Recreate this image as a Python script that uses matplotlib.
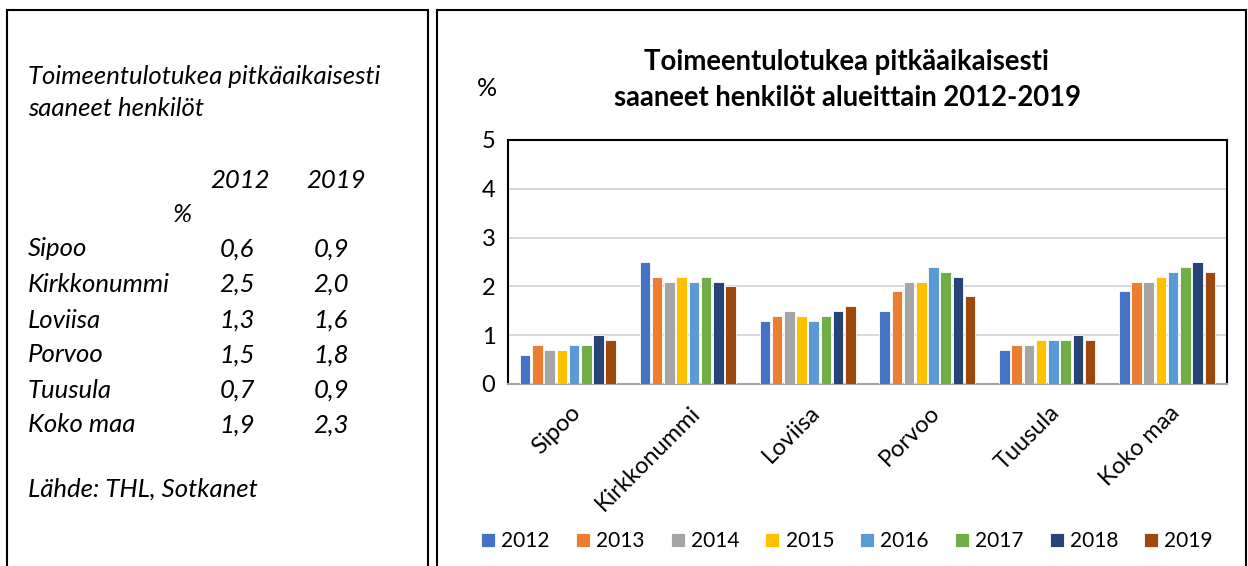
import matplotlib
matplotlib.use("Agg")
import matplotlib.pyplot as plt
from matplotlib.patches import Rectangle
import matplotlib.transforms as mtransforms
import numpy as np

regions = ["Sipoo", "Kirkkonummi", "Loviisa", "Porvoo", "Tuusula", "Koko maa"]
years = ["2012", "2013", "2014", "2015", "2016", "2017", "2018", "2019"]
v2012 = [0.6, 2.5, 1.3, 1.5, 0.7, 1.9]
v2013 = [0.8, 2.2, 1.4, 1.9, 0.8, 2.1]
v2014 = [0.7, 2.1, 1.5, 2.1, 0.8, 2.1]
v2015 = [0.7, 2.2, 1.4, 2.1, 0.9, 2.2]
v2016 = [0.8, 2.1, 1.3, 2.4, 0.9, 2.3]
v2017 = [0.8, 2.2, 1.4, 2.3, 0.9, 2.4]
v2018 = [1.0, 2.1, 1.5, 2.2, 1.0, 2.5]
v2019 = [0.9, 2.0, 1.6, 1.8, 0.9, 2.3]
series = [v2012, v2013, v2014, v2015, v2016, v2017, v2018, v2019]
colors = ["#4472C4", "#ED7D31", "#A5A5A5", "#FFC000", "#5B9BD5", "#70AD47", "#264478", "#9E480E"]

table_2012 = ["0,6", "2,5", "1,3", "1,5", "0,7", "1,9"]
table_2019 = ["0,9", "2,0", "1,6", "1,8", "0,9", "2,3"]

FONT = ["Lato", "DejaVu Sans"]
plt.rcParams['font.family'] = FONT

W, H = 1248, 566
fig = plt.figure(figsize=(W / 100, H / 100), dpi=100)

def fx(x):
    return x / W

def fy(y):
    return 1 - y / H

# panel boxes
fig.patches.append(Rectangle((fx(7), fy(575)), fx(428 - 7), (575 - 10) / H, transform=fig.transFigure,
                             fill=False, edgecolor="black", linewidth=1.5))
fig.patches.append(Rectangle((fx(437), fy(575)), fx(1246 - 437), (575 - 10) / H, transform=fig.transFigure,
                             fill=False, edgecolor="black", linewidth=1.5))

# left text panel
tk = dict(fontsize=18.5, style="italic", color="black", va="center")
fig.text(fx(28), fy(76), "Toimeentulotukea pitkäaikaisesti", **tk)
fig.text(fx(28), fy(109), "saaneet henkilöt", **tk)
fig.text(fx(240), fy(180), "2012", ha="center", **tk)
fig.text(fx(336), fy(180), "2019", ha="center", **tk)
fig.text(fx(182), fy(214), "%", ha="center", **tk)
row_y = [249, 284, 320, 355, 390, 425]
for r, a, b, yy in zip(regions, table_2012, table_2019, row_y):
    fig.text(fx(28), fy(yy), r, **tk)
    fig.text(fx(237), fy(yy), a, ha="center", **tk)
    fig.text(fx(331), fy(yy), b, ha="center", **tk)
fig.text(fx(28), fy(489), "Lähde: THL, Sotkanet", **tk)

# chart
ax = fig.add_axes([fx(508), fy(384), fx(1227 - 508), (384 - 140) / H])
x = np.arange(len(regions))
n = len(series)
slot = 0.102
bw = 0.088
for i, (vals, c, yr) in enumerate(zip(series, colors, years)):
    ax.bar(x + (i - (n - 1) / 2) * slot, vals, width=bw, color=c, label=yr,
           edgecolor="white", linewidth=0.6, zorder=3)

ax.set_xlim(-0.5, len(regions) - 0.5)
ax.set_ylim(0, 5)
ax.set_yticks([0, 1, 2, 3, 4, 5])
ax.set_yticklabels(["0", "1", "2", "3", "4", "5"], fontsize=17)
ax.yaxis.grid(True, color="#D9D9D9", linewidth=1.5, zorder=0)
ax.set_axisbelow(True)
ax.tick_params(axis="y", length=0, pad=9)
ax.tick_params(axis="x", length=0, pad=13)
ax.set_xticks(x)
ax.set_xticklabels(regions, rotation=45, ha="right", rotation_mode="anchor", fontsize=17)
for s in ["top", "right", "left"]:
    ax.spines[s].set_color("black")
    ax.spines[s].set_linewidth(1.5)
ax.spines["bottom"].set_color("#A6A6A6")
ax.spines["bottom"].set_linewidth(1.5)

# small horizontal nudge of the rotated category labels
shift = mtransforms.ScaledTranslation(2 / 100, 0, fig.dpi_scale_trans)
for lbl in ax.get_xticklabels():
    lbl.set_transform(lbl.get_transform() + shift)

fig.text(fx(487), fy(89), "%", fontsize=18, ha="center", va="center")
fig.text(fx(847), fy(62), "Toimeentulotukea pitkäaikaisesti", fontsize=19.8, fontweight="bold",
         ha="center", va="center")
fig.text(fx(847), fy(98), "saaneet henkilöt alueittain 2012-2019", fontsize=19.8, fontweight="bold",
         ha="center", va="center")

handles, labels = ax.get_legend_handles_labels()
fig.legend(handles, labels, loc="center", bbox_to_anchor=(fx(847), fy(541)), ncol=8, frameon=False,
           fontsize=15, handlelength=0.67, handleheight=0.67, handletextpad=0.3, columnspacing=1.25)

fig.savefig("out.png", dpi=100)
